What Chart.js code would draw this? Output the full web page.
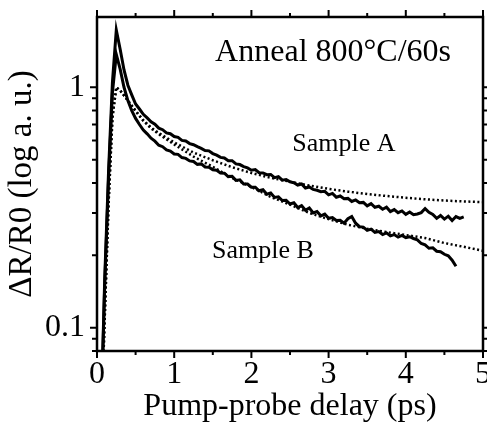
<!DOCTYPE html>
<html lang="en">
<head>
<meta charset="UTF-8">
<title>Anneal 800°C/60s</title>
<script src="https://cdn.jsdelivr.net/npm/chart.js"></script>
<style>
  html, body { margin: 0; padding: 0; background: #fff; }
  #wrap { width: 487px; height: 425px; }
</style>
</head>
<body>
<div id="wrap"><canvas id="decayChart"></canvas></div>
<script>
  // measured traces, delay in ps
  const delay = [
    0.00, 0.05, 0.10, 0.15, 0.20, 0.25, 0.30, 0.35, 0.40, 0.45,
    0.50, 0.55, 0.60, 0.65, 0.70, 0.75, 0.80, 0.85, 0.90, 0.95,
    1.00, 1.05, 1.10, 1.15, 1.20, 1.25, 1.30, 1.35, 1.40, 1.45,
    1.50, 1.55, 1.60, 1.65, 1.70, 1.75, 1.80, 1.85, 1.90, 1.95,
    2.00, 2.05, 2.10, 2.15, 2.20, 2.25, 2.30, 2.35, 2.40, 2.45,
    2.50, 2.55, 2.60, 2.65, 2.70, 2.75, 2.80, 2.85, 2.90, 2.95,
    3.00, 3.05, 3.10, 3.15, 3.20, 3.25, 3.30, 3.35, 3.40, 3.45,
    3.50, 3.55, 3.60, 3.65, 3.70, 3.75, 3.80, 3.85, 3.90, 3.95,
    4.00, 4.05, 4.10, 4.15, 4.20, 4.25, 4.30, 4.35, 4.40, 4.45,
    4.50, 4.55, 4.60, 4.65, 4.70, 4.75
  ];
  const sampleA = [
    0.030, 0.040, 0.160, 0.450, 1.050, 1.730, 1.440, 1.180, 1.020, 0.930,
    0.852, 0.812, 0.772, 0.746, 0.719, 0.702, 0.676, 0.666, 0.646, 0.641,
    0.624, 0.619, 0.601, 0.598, 0.583, 0.577, 0.566, 0.557, 0.546, 0.544,
    0.530, 0.522, 0.511, 0.508, 0.495, 0.495, 0.480, 0.477, 0.468, 0.462,
    0.452, 0.455, 0.441, 0.440, 0.433, 0.434, 0.421, 0.425, 0.411, 0.413,
    0.404, 0.401, 0.392, 0.396, 0.381, 0.385, 0.376, 0.373, 0.368, 0.369,
    0.357, 0.362, 0.349, 0.353, 0.344, 0.345, 0.335, 0.340, 0.331, 0.332,
    0.321, 0.328, 0.317, 0.320, 0.311, 0.317, 0.304, 0.310, 0.301, 0.306,
    0.296, 0.303, 0.295, 0.297, 0.301, 0.313, 0.302, 0.296, 0.285, 0.293,
    0.283, 0.291, 0.279, 0.290, 0.285, 0.289
  ];
  const sampleB = [
    0.030, 0.040, 0.150, 0.420, 0.950, 1.370, 1.190, 1.000, 0.880, 0.800,
    0.742, 0.700, 0.664, 0.640, 0.614, 0.597, 0.574, 0.566, 0.549, 0.543,
    0.528, 0.526, 0.510, 0.506, 0.494, 0.491, 0.478, 0.480, 0.466, 0.465,
    0.454, 0.452, 0.440, 0.439, 0.425, 0.426, 0.410, 0.412, 0.396, 0.396,
    0.384, 0.384, 0.371, 0.375, 0.359, 0.363, 0.348, 0.350, 0.338, 0.339,
    0.327, 0.331, 0.316, 0.322, 0.308, 0.315, 0.300, 0.304, 0.292, 0.297,
    0.285, 0.287, 0.279, 0.280, 0.272, 0.284, 0.290, 0.272, 0.263, 0.262,
    0.254, 0.257, 0.249, 0.251, 0.244, 0.248, 0.241, 0.244, 0.238, 0.242,
    0.237, 0.239, 0.235, 0.232, 0.224, 0.221, 0.214, 0.215, 0.208, 0.207,
    0.202, 0.199, 0.191, 0.180
  ];

  // fitted curves
  const fitDelay = [
    0.05, 0.08, 0.10, 0.15, 0.20, 0.25, 0.30, 0.40, 0.50, 0.60,
    0.70, 0.80, 1.00, 1.25, 1.50, 1.75, 2.00, 2.25, 2.50, 2.75,
    3.00, 3.25, 3.50, 3.75, 4.00, 4.25, 4.50, 4.75, 5.00
  ];
  const fitA = [
    0.040, 0.070, 0.110, 0.330, 0.750, 1.000, 0.970, 0.880, 0.800, 0.730,
    0.680, 0.645, 0.590, 0.535, 0.497, 0.465, 0.440, 0.420, 0.405, 0.390,
    0.378, 0.368, 0.360, 0.353, 0.347, 0.342, 0.338, 0.335, 0.333
  ];
  const fitB = [
    0.040, 0.070, 0.110, 0.330, 0.750, 1.000, 0.970, 0.880, 0.795, 0.725,
    0.675, 0.638, 0.578, 0.515, 0.467, 0.420, 0.385, 0.350, 0.325, 0.300,
    0.283, 0.268, 0.258, 0.250, 0.243, 0.236, 0.225, 0.217, 0.209
  ];

  const xMajor = [0, 1, 2, 3, 4, 5];
  const xMinor = [0.5, 1.5, 2.5, 3.5, 4.5];
  const yMajor = [0.1, 1];
  const yMinor = [0.08, 0.09, 0.2, 0.3, 0.4, 0.5, 0.6, 0.7, 0.8, 0.9];

  const notes = [
    { text: 'Anneal 800°C/60s', x: 1.53, y: 1.28, size: 32 },
    { text: 'Sample A', x: 2.53, y: 0.545, size: 26 },
    { text: 'Sample B', x: 1.49, y: 0.1945, size: 26 }
  ];

  const serif = '"Liberation Serif", "Times New Roman", serif';

  const framePlugin = {
    id: 'frame',
    afterDatasetsDraw(chart) {
      const { ctx, chartArea: a, scales } = chart;
      const x = scales.x, y = scales.y;
      ctx.save();
      ctx.strokeStyle = '#000';
      ctx.lineWidth = 2.5;
      ctx.strokeRect(a.left, a.top, a.right - a.left, a.bottom - a.top);

      ctx.lineWidth = 2;
      ctx.beginPath();
      const xt = (v, len) => {
        const px = x.getPixelForValue(v);
        ctx.moveTo(px, a.bottom); ctx.lineTo(px, a.bottom + len);
        ctx.moveTo(px, a.top); ctx.lineTo(px, a.top - len);
      };
      const yt = (v, len) => {
        const py = y.getPixelForValue(v);
        ctx.moveTo(a.left, py); ctx.lineTo(a.left - len, py);
        ctx.moveTo(a.right, py); ctx.lineTo(a.right + len, py);
      };
      xMajor.forEach(v => xt(v, 7));
      xMinor.forEach(v => xt(v, 4));
      yMajor.forEach(v => yt(v, 7));
      yMinor.forEach(v => yt(v, 5));
      ctx.stroke();

      ctx.fillStyle = '#000';
      ctx.textAlign = 'left';
      ctx.textBaseline = 'alphabetic';
      notes.forEach(n => {
        ctx.font = n.size + 'px ' + serif;
        ctx.fillText(n.text, x.getPixelForValue(n.x), y.getPixelForValue(n.y));
      });
      ctx.restore();
    }
  };

  const solid = (label, values) => ({
    label: label,
    data: values.map((v, i) => ({ x: delay[i], y: v })),
    borderColor: '#000',
    borderWidth: 3,
    pointRadius: 0,
    tension: 0
  });
  const dotted = (label, values) => ({
    label: label,
    data: values.map((v, i) => ({ x: fitDelay[i], y: v })),
    borderColor: '#000',
    borderWidth: 2.5,
    borderDash: [2, 2.5],
    pointRadius: 0,
    tension: 0
  });

  const ctx = document.getElementById('decayChart').getContext('2d');
  const decayChart = new Chart(ctx, {
    type: 'line',
    data: {
      datasets: [
        dotted('Fit A', fitA),
        dotted('Fit B', fitB),
        solid('Sample A', sampleA),
        solid('Sample B', sampleB)
      ]
    },
    options: {
      responsive: true,
      maintainAspectRatio: false,
      animation: false,
      layout: { padding: { top: 17, right: 4, left: 0, bottom: 0 } },
      plugins: { legend: { display: false }, tooltip: { enabled: false } },
      scales: {
        x: {
          type: 'linear',
          position: 'bottom',
          min: 0,
          max: 5,
          grid: { display: false, drawTicks: false },
          border: { display: false },
          ticks: {
            stepSize: 1,
            autoSkip: false,
            maxRotation: 0,
            padding: 4,
            color: '#000',
            font: { family: serif, size: 32 }
          },
          title: {
            display: true,
            text: 'Pump-probe delay (ps)',
            color: '#000',
            font: { family: serif, size: 32, lineHeight: 1 },
            padding: { top: 0, bottom: 2 }
          },
          afterFit(s) { s.height = 74; s.paddingLeft = 0; s.paddingRight = 0; }
        },
        y: {
          type: 'logarithmic',
          position: 'left',
          min: 0.08,
          max: 1.96,
          grid: { display: false, drawTicks: false },
          border: { display: false },
          afterBuildTicks(s) { s.ticks = yMajor.map(v => ({ value: v })); },
          ticks: {
            padding: 12,
            color: '#000',
            font: { family: serif, size: 32 },
            callback: v => String(v)
          },
          title: {
            display: true,
            text: 'ΔR/R0 (log a. u.)',
            color: '#000',
            font: { family: serif, size: 33, lineHeight: 1 },
            padding: { top: 6, bottom: 0 }
          },
          afterFit(s) { s.width = 97; s.paddingTop = 0; s.paddingBottom = 0; }
        }
      }
    },
    plugins: [framePlugin]
  });
</script>
</body>
</html>
